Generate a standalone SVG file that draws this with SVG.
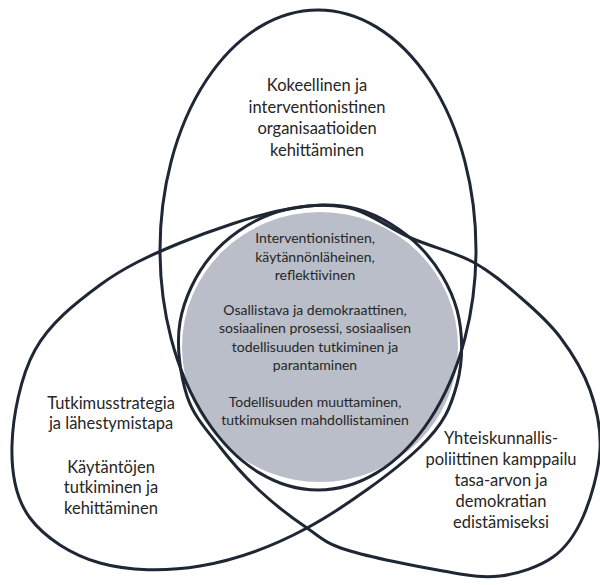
<svg xmlns="http://www.w3.org/2000/svg" width="600" height="585" viewBox="0 0 600 585">
  <style>
    .ring { fill: none; stroke: #1E2733; stroke-width: 3; stroke-linejoin: round; }
    .core { fill: #B9BEC8; stroke: none; }
    text { font-family: Lato, "Open Sans", "Liberation Sans", sans-serif; fill: #262626; text-anchor: middle; }
    .big { font-size: 16.5px; }
    .small { font-size: 14px; }
  </style>
  <rect width="600" height="585" fill="#FFFFFF"/>

  <!-- shared core -->
  <g id="core">
    <ellipse class="core" cx="320" cy="347" rx="138" ry="135"/>
  </g>

  <!-- outer sets: each wraps part of the core -->
  <g id="connectors">
    <ellipse id="set-top" class="ring" cx="318" cy="250" rx="158" ry="240"/>
    <path id="set-left" class="ring" d="M283,210
      C312.5,204.3 334.2,202.8 357,209
      C379.8,215.2 403.3,230.2 420,247
      C436.7,263.8 450.8,287.2 457,310
      C463.2,332.8 463.2,361.2 457,384
      C450.8,406.8 445,423 420,447
      C395,471 343.7,508.2 307,528
      C270.3,547.8 234.5,560.2 200,566
      C165.5,571.8 128.3,571 100,563
      C71.7,555 44.7,537.7 30,518
      C15.3,498.3 11.2,473 12,445
      C12.8,417 20.3,376.7 35,350
      C49.7,323.3 75.8,302.8 100,285
      C124.2,267.2 149.5,255.5 180,243
      C210.5,230.5 253.5,215.7 283,210 Z"/>
    <path id="set-right" class="ring" d="M345,207
      C368.3,211 389.7,228.8 411,238
      C432.3,247.2 454.8,252.2 473,262
      C491.2,271.8 505.5,284.5 520,297
      C534.5,309.5 548.3,321.5 560,337
      C571.7,352.5 583.3,371.2 590,390
      C596.7,408.8 601.2,428.8 600,450
      C598.8,471.2 590.8,499.2 583,517
      C575.2,534.8 566.8,547.2 553,557
      C539.2,566.8 518.3,573.7 500,576
      C481.7,578.3 468.5,575.3 443,571
      C417.5,566.7 369.7,557.2 347,550
      C324.3,542.8 321.5,537.8 307,528
      C292.5,518.2 274.5,504.5 260,491
      C245.5,477.5 232.2,462.8 220,447
      C207.8,431.2 193.7,416.8 187,396
      C180.3,375.2 176,345.3 180,322
      C184,298.7 195.8,274 211,256
      C226.2,238 248.7,222.2 271,214
      C293.3,205.8 321.7,203 345,207 Z"/>
  </g>

  <g id="top-label">
    <text class="big" x="317" y="91">Kokeellinen ja</text>
    <text class="big" x="317" y="113">interventionistinen</text>
    <text class="big" x="317" y="134">organisaatioiden</text>
    <text class="big" x="317" y="156">kehittäminen</text>
  </g>

  <g id="core-label">
    <text class="small" x="315" y="243">Interventionistinen,</text>
    <text class="small" x="315" y="262">käytännönläheinen,</text>
    <text class="small" x="315" y="280">reflektiivinen</text>
    <text class="small" x="315" y="315">Osallistava ja demokraattinen,</text>
    <text class="small" x="315" y="333">sosiaalinen prosessi, sosiaalisen</text>
    <text class="small" x="315" y="352">todellisuuden tutkiminen ja</text>
    <text class="small" x="315" y="370">parantaminen</text>
    <text class="small" x="315" y="407">Todellisuuden muuttaminen,</text>
    <text class="small" x="315" y="425">tutkimuksen mahdollistaminen</text>
  </g>

  <g id="left-label">
    <text class="big" x="111" y="409">Tutkimusstrategia</text>
    <text class="big" x="111" y="429">ja lähestymistapa</text>
    <text class="big" x="111" y="473">Käytäntöjen</text>
    <text class="big" x="111" y="493">tutkiminen ja</text>
    <text class="big" x="111" y="514">kehittäminen</text>
  </g>

  <g id="right-label">
    <text class="big" x="501" y="444">Yhteiskunnallis-</text>
    <text class="big" x="501" y="465">poliittinen kamppailu</text>
    <text class="big" x="501" y="486">tasa-arvon ja</text>
    <text class="big" x="501" y="507">demokratian</text>
    <text class="big" x="501" y="528">edistämiseksi</text>
  </g>
</svg>
